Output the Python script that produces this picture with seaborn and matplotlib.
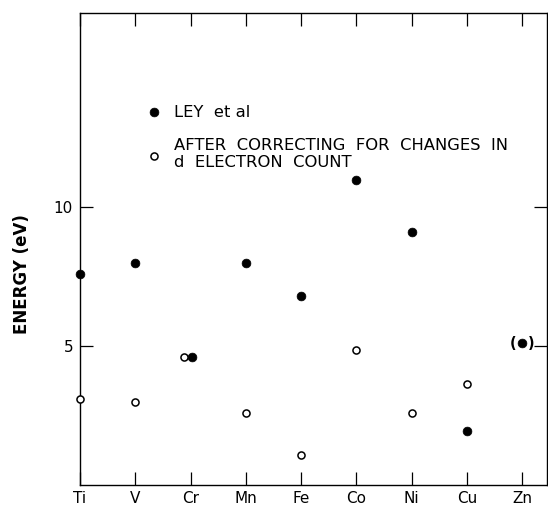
import numpy as np
import pandas as pd
import matplotlib
matplotlib.use("Agg")
import matplotlib.pyplot as plt
import seaborn as sns

elements = ["Ti", "V", "Cr", "Mn", "Fe", "Co", "Ni", "Cu", "Zn"]
ley_energy = [7.6, 8.0, 4.6, 8.0, 6.8, 11.0, 9.1, 1.95, 5.1]
corrected_energy = [3.1, 3.0, 4.6, 2.6, 1.07, 4.86, 2.6, 3.63]
ley_label = "LEY  et al"
corrected_label = "AFTER  CORRECTING  FOR  CHANGES  IN\nd  ELECTRON  COUNT"
y_ticks = [5, 10]
y_label = "ENERGY (eV)"

sns.set_theme(style="ticks")
plt.rcParams["font.family"] = ["DejaVu Sans"]
plt.rcParams["text.color"] = "black"

# small horizontal nudges so coincident Cr points stay visible
ley_offset = {"Cr": 0.02}
cor_offset = {"Cr": -0.12}

df_ley = pd.DataFrame({"element": elements, "energy": ley_energy})
df_ley["pos"] = [i + ley_offset.get(e, 0) for i, e in enumerate(elements)]
df_cor = pd.DataFrame({"element": elements[:len(corrected_energy)], "energy": corrected_energy})
df_cor["pos"] = [i + cor_offset.get(e, 0) for i, e in enumerate(df_cor["element"])]

fig = plt.figure(figsize=(5.48, 5.12), dpi=100)
ax = fig.add_axes([80 / 548, 27 / 512, 467 / 548, 472 / 512])

sns.scatterplot(data=df_ley, x="pos", y="energy", ax=ax, s=40, color="black",
                edgecolor="black", linewidth=0.5, label=ley_label, zorder=3, clip_on=False)
sns.scatterplot(data=df_cor, x="pos", y="energy", ax=ax, s=26, facecolor="white",
                edgecolor="black", linewidth=1.1, label=corrected_label, zorder=4, clip_on=False)

# parentheses around the Zn point
zn_i = elements.index("Zn")
for dx, ch in [(-7.0, "("), (6.5, ")")]:
    ax.annotate(ch, (zn_i, ley_energy[zn_i]), xytext=(dx, -0.3), textcoords="offset points",
                ha="center", va="center", fontsize=10.5, fontweight="bold", color="black")

ax.set_xlim(0, 8.445)
ax.set_ylim(0, 17)
ax.set_xticks(range(len(elements)))
ax.set_xticklabels(elements)
ax.set_yticks(y_ticks)
ax.set_yticklabels([str(t) for t in y_ticks])
ax.tick_params(axis="both", direction="in", length=9.5, width=0.9, color="black",
               labelsize=11, top=True, right=True, labelcolor="black")
ax.tick_params(axis="x", pad=4.5)
ax.tick_params(axis="y", pad=5)
for sp in ax.spines.values():
    sp.set_visible(True)
    sp.set_linewidth(1.0)
    sp.set_color("black")

ax.set_xlabel("")
ax.set_ylabel(y_label, fontsize=12, fontweight="bold", color="black")
ax.yaxis.set_label_coords(-0.105, 0.447)

leg = ax.legend(loc="upper left", bbox_to_anchor=(0.13, 0.82), frameon=False,
                fontsize=11.8, handletextpad=0.85, labelspacing=1.15, borderaxespad=0,
                handlelength=0.8, markerscale=1.0)
for t in leg.get_texts():
    t.set_color("black")
    t.set_linespacing(1.12)

fig.savefig("out.png", dpi=100, facecolor="white")
